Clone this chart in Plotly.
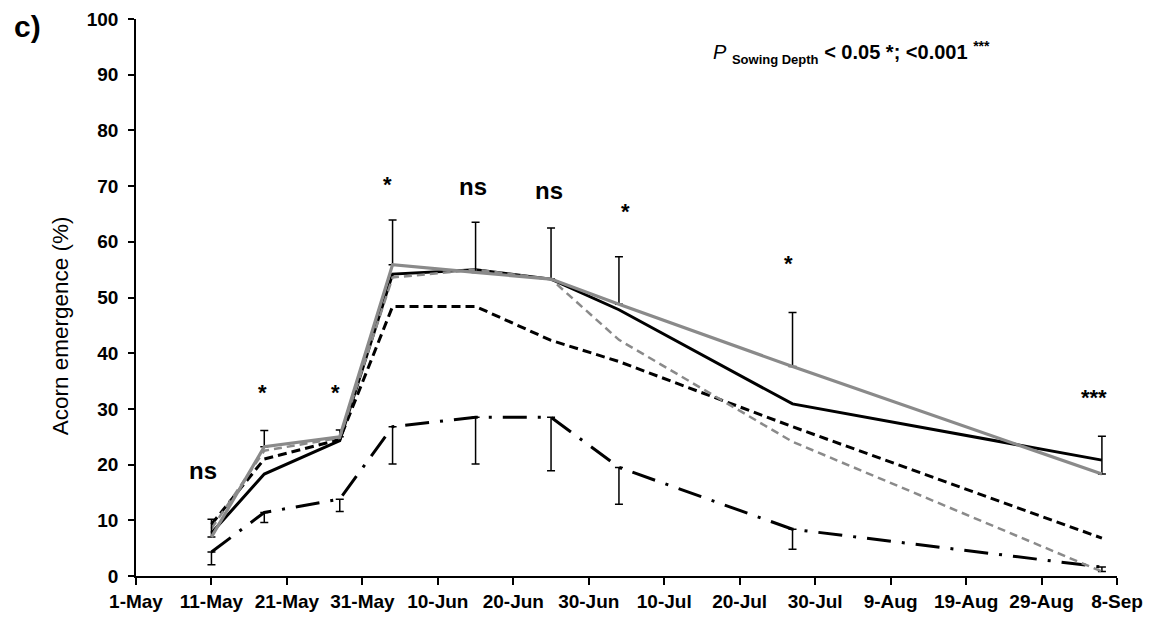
import plotly.graph_objects as go

# ---- data ----
dates = ["2011-05-11", "2011-05-18", "2011-05-28", "2011-06-04", "2011-06-15",
         "2011-06-25", "2011-07-04", "2011-07-27", "2011-09-06"]
grey_solid = [7.0, 23.2, 25.0, 55.9, 54.5, 53.3, 48.8, 37.6, 18.3]
black_solid = [7.7, 18.3, 24.3, 54.2, 55.0, 53.3, 47.8, 30.9, 20.8]
black_dashed = [9.3, 21.0, 24.5, 48.4, 48.4, 42.3, 38.5, 26.8, 6.8]
grey_dashed = [8.5, 22.5, 24.8, 53.6, 55.0, 53.3, 42.4, 24.1, 0.8]
dash_dot = [4.3, 11.4, 13.8, 26.8, 28.5, 28.5, 19.5, 8.4, 1.6]
grey_solid_err_plus = [3.2, 2.9, 1.2, 8.0, 9.0, 9.2, 8.5, 9.7, 6.8]
dash_dot_err_minus = [2.3, 1.8, 2.2, 6.7, 8.4, 9.6, 6.6, 3.6, 0.8]

tick_dates = ["2011-05-01", "2011-05-11", "2011-05-21", "2011-05-31", "2011-06-10",
              "2011-06-20", "2011-06-30", "2011-07-10", "2011-07-20", "2011-07-30",
              "2011-08-09", "2011-08-19", "2011-08-29", "2011-09-08"]
tick_labels = ["1-May", "11-May", "21-May", "31-May", "10-Jun", "20-Jun", "30-Jun",
               "10-Jul", "20-Jul", "30-Jul", "9-Aug", "19-Aug", "29-Aug", "8-Sep"]

sig_texts = ["ns", "*", "*", "*", "ns", "ns", "*", "*", "***"]
sig_y = [18.9, 33.0, 32.9, 70.2, 70.0, 69.3, 65.5, 56.1, 32.1]
sig_xshift = [-8, -2, -4, -5, -3, -2, 7, -4, -8]

FONT = "Liberation Sans, Arial, sans-serif"
GREY = "#8a8a8a"

fig = go.Figure()

zero = [0] * len(dates)

fig.add_trace(go.Scatter(
    x=dates, y=dash_dot, mode="lines",
    line=dict(color="black", width=3, dash="24px,11px,3px,11px"),
    error_y=dict(type="data", symmetric=False, array=zero, arrayminus=dash_dot_err_minus,
                 color="black", thickness=1.5, width=4),
))
fig.add_trace(go.Scatter(
    x=dates, y=black_dashed, mode="lines",
    line=dict(color="black", width=3, dash="9px,5px"),
))
fig.add_trace(go.Scatter(
    x=dates, y=black_solid, mode="lines",
    line=dict(color="black", width=3),
))
fig.add_trace(go.Scatter(
    x=dates, y=grey_dashed, mode="lines",
    line=dict(color=GREY, width=2.5, dash="8px,5px"),
))
fig.add_trace(go.Scatter(
    x=dates, y=grey_solid, mode="lines",
    line=dict(color=GREY, width=3.2),
    error_y=dict(type="data", symmetric=False, array=grey_solid_err_plus, arrayminus=zero,
                 color="black", thickness=1.5, width=4),
))

for d, t, yv, xs in zip(dates, sig_texts, sig_y, sig_xshift):
    fig.add_annotation(x=d, y=yv, text=t, showarrow=False, xshift=xs,
                       font=dict(family=FONT, size=24 if t == "ns" else 22, color="black", weight="bold"),
                       xanchor="center", yanchor="middle")

fig.add_annotation(
    xref="paper", yref="y", x=0.729, y=94.0, showarrow=False, xanchor="center", yanchor="middle",
    text="<i>P</i> <sub><span style='font-size:13px'><b>Sowing Depth</b></span></sub>"
         "<b> &lt; 0.05 *; &lt;0.001 </b><sup><b>***</b></sup>",
    font=dict(family=FONT, size=20, color="black"),
)

fig.add_annotation(
    xref="paper", yref="paper", x=-0.111, y=0.987, text="<b>c)</b>", showarrow=False,
    xanchor="center", yanchor="middle", font=dict(family=FONT, size=30, color="black"),
)

fig.add_annotation(
    xref="paper", yref="paper", x=-0.0775, y=0.45, text="Acorn emergence (%)", showarrow=False,
    textangle=-90, xanchor="center", yanchor="middle", font=dict(family=FONT, size=22.5, color="black"),
)

# the page body adds an 8px offset, so margins are compensated for it
fig.update_layout(
    width=1153, height=621,
    margin=dict(l=128, r=44, t=11, b=53, autoexpand=False),
    paper_bgcolor="white", plot_bgcolor="white",
    showlegend=False,
    xaxis=dict(
        type="date", range=["2011-05-01", "2011-09-08"], automargin=False,
        tickmode="array", tickvals=tick_dates, ticktext=tick_labels,
        ticks="outside", ticklen=7, tickwidth=1.5, tickcolor="black",
        showline=True, linecolor="black", linewidth=1.5,
        showgrid=False, zeroline=False,
        tickfont=dict(family=FONT, size=19, color="black", weight="bold"),
    ),
    yaxis=dict(
        range=[0, 100], tickmode="linear", tick0=0, dtick=10, automargin=False,
        ticks="outside", ticklen=6, tickwidth=1.5, tickcolor="black",
        showline=True, linecolor="black", linewidth=1.5,
        showgrid=False, zeroline=False,
        ticklabelstandoff=6,
        tickfont=dict(family=FONT, size=19, color="black", weight="bold"),
    ),
)

fig.write_html("out.html")
